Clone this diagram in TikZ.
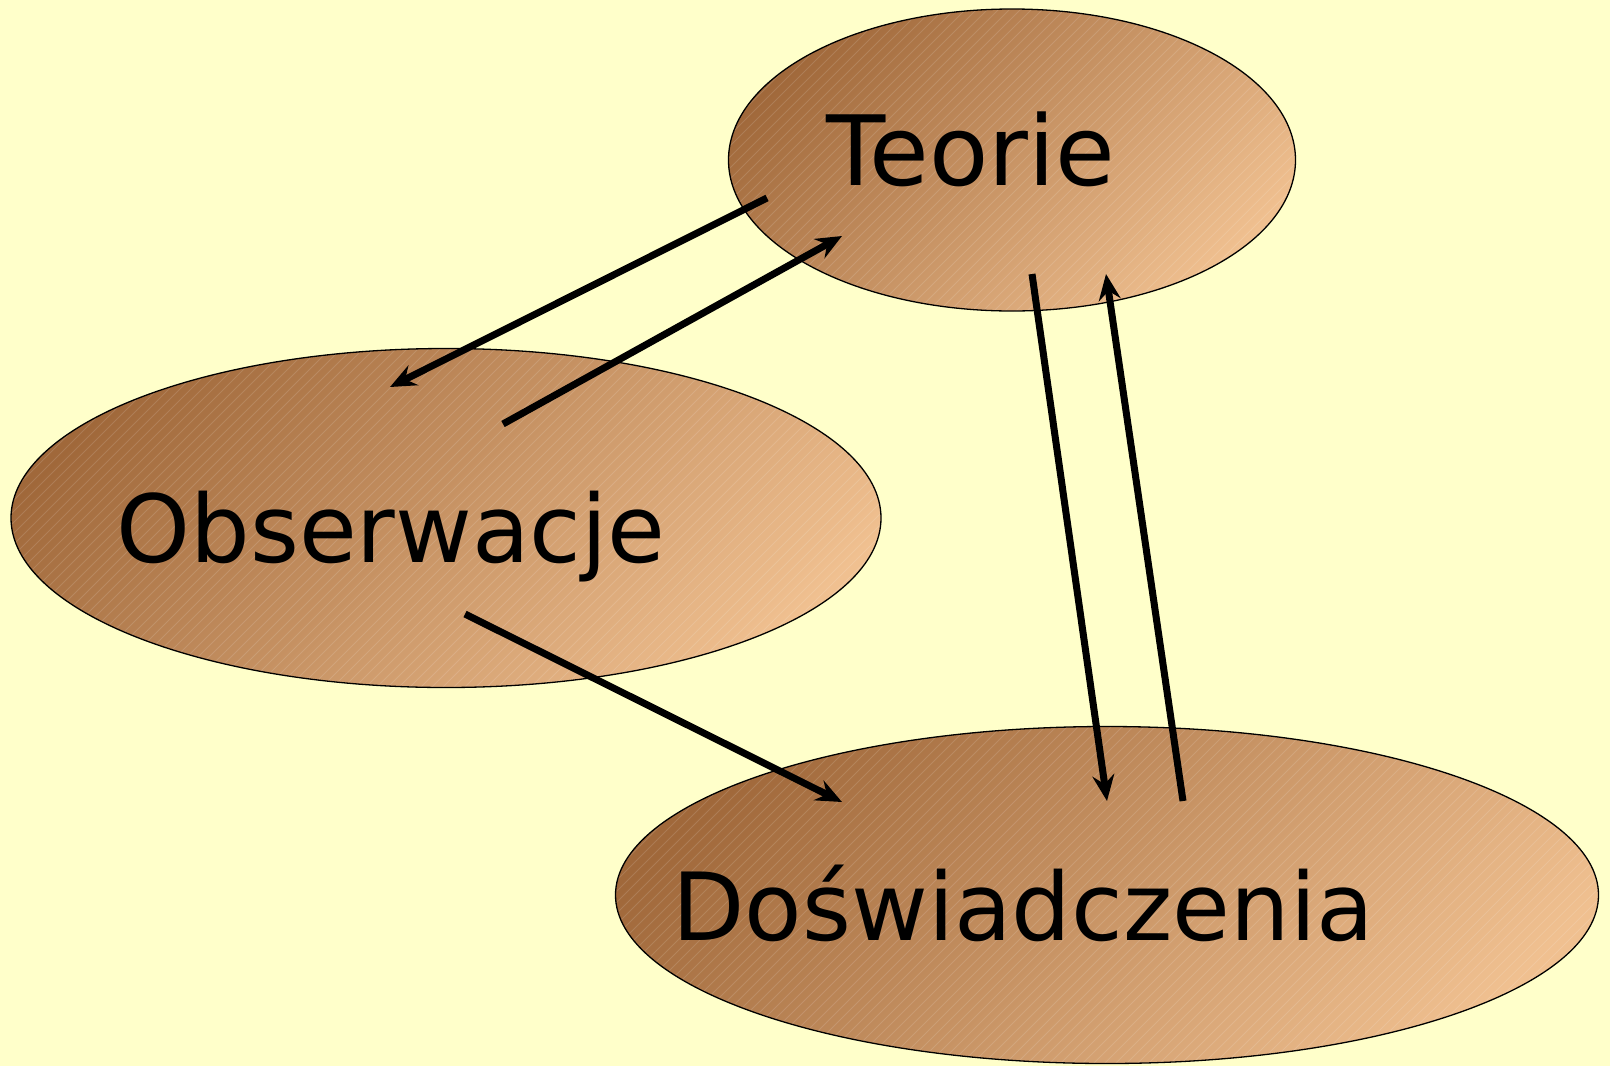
\documentclass[tikz,border=0pt]{standalone}
\usepackage{fontspec}
\setmainfont{DejaVu Sans}
\usetikzlibrary{arrows.meta,shapes.geometric}
\definecolor{bg}{HTML}{FFFFCA}
\definecolor{brdark}{HTML}{A0683A}
\definecolor{brlight}{HTML}{F0C090}
\pgfdeclarehorizontalshading{brsh}{100bp}{color(0bp)=(brdark); color(33bp)=(brdark); color(67bp)=(brlight); color(100bp)=(brlight)}
\begin{document}
\begin{tikzpicture}[x=1pt,y=-1pt,
  oval/.style={ellipse, draw=black, line width=1.3pt, inner sep=0pt,
    path picture={\shade[shading=brsh, shading angle=-45]
      ([shift={(-#1,-#1)}]path picture bounding box.center) rectangle
      ([shift={(#1,#1)}]path picture bounding box.center);
      \foreach \i in {-1000,-989,...,1000}
        \draw[white, opacity=0.13, line width=0.8pt]
          ([shift={(\i,0)}]path picture bounding box.center) ++(-500,500) -- ++(1000,-1000);}},
  lbl/.style={anchor=base, font=\fontsize{94}{104}\selectfont, inner sep=0pt},
  conn/.style={line width=7pt, -{Stealth[length=26pt,width=22pt,inset=9pt]}}]
\fill[bg] (0,0) rectangle (1610,1066);
\useasboundingbox (0,0) rectangle (1610,1066);
\node[oval=330, minimum width=567pt, minimum height=302pt] (teo) at (1012,160) {};
\node[oval=470, minimum width=870pt, minimum height=339pt] (obs) at (446,518) {};
\node[oval=515, minimum width=983pt, minimum height=337pt] (dos) at (1107,895) {};
\node[lbl, font=\fontsize{97}{104}\selectfont] (teot) at (971,185) {Teorie};
\node[lbl] (obst) at (391,562) {Obserwacje};
\node[lbl] (dost) at (1023,940) {Doświadczenia};
\coordinate (a1s) at (767,198);
\coordinate (a1e) at (390,387);
\coordinate (a2s) at (503,424);
\coordinate (a2e) at (842,236);
\coordinate (a3s) at (1032,274);
\coordinate (a3e) at (1107,801);
\coordinate (a4s) at (1183,801);
\coordinate (a4e) at (1106,274);
\coordinate (a5s) at (465,614);
\coordinate (a5e) at (842,802);
\draw[conn] (a1s) -- (a1e);
\draw[conn] (a2s) -- (a2e);
\draw[conn] (a3s) -- (a3e);
\draw[conn] (a4s) -- (a4e);
\draw[conn] (a5s) -- (a5e);
\end{tikzpicture}
\end{document}
